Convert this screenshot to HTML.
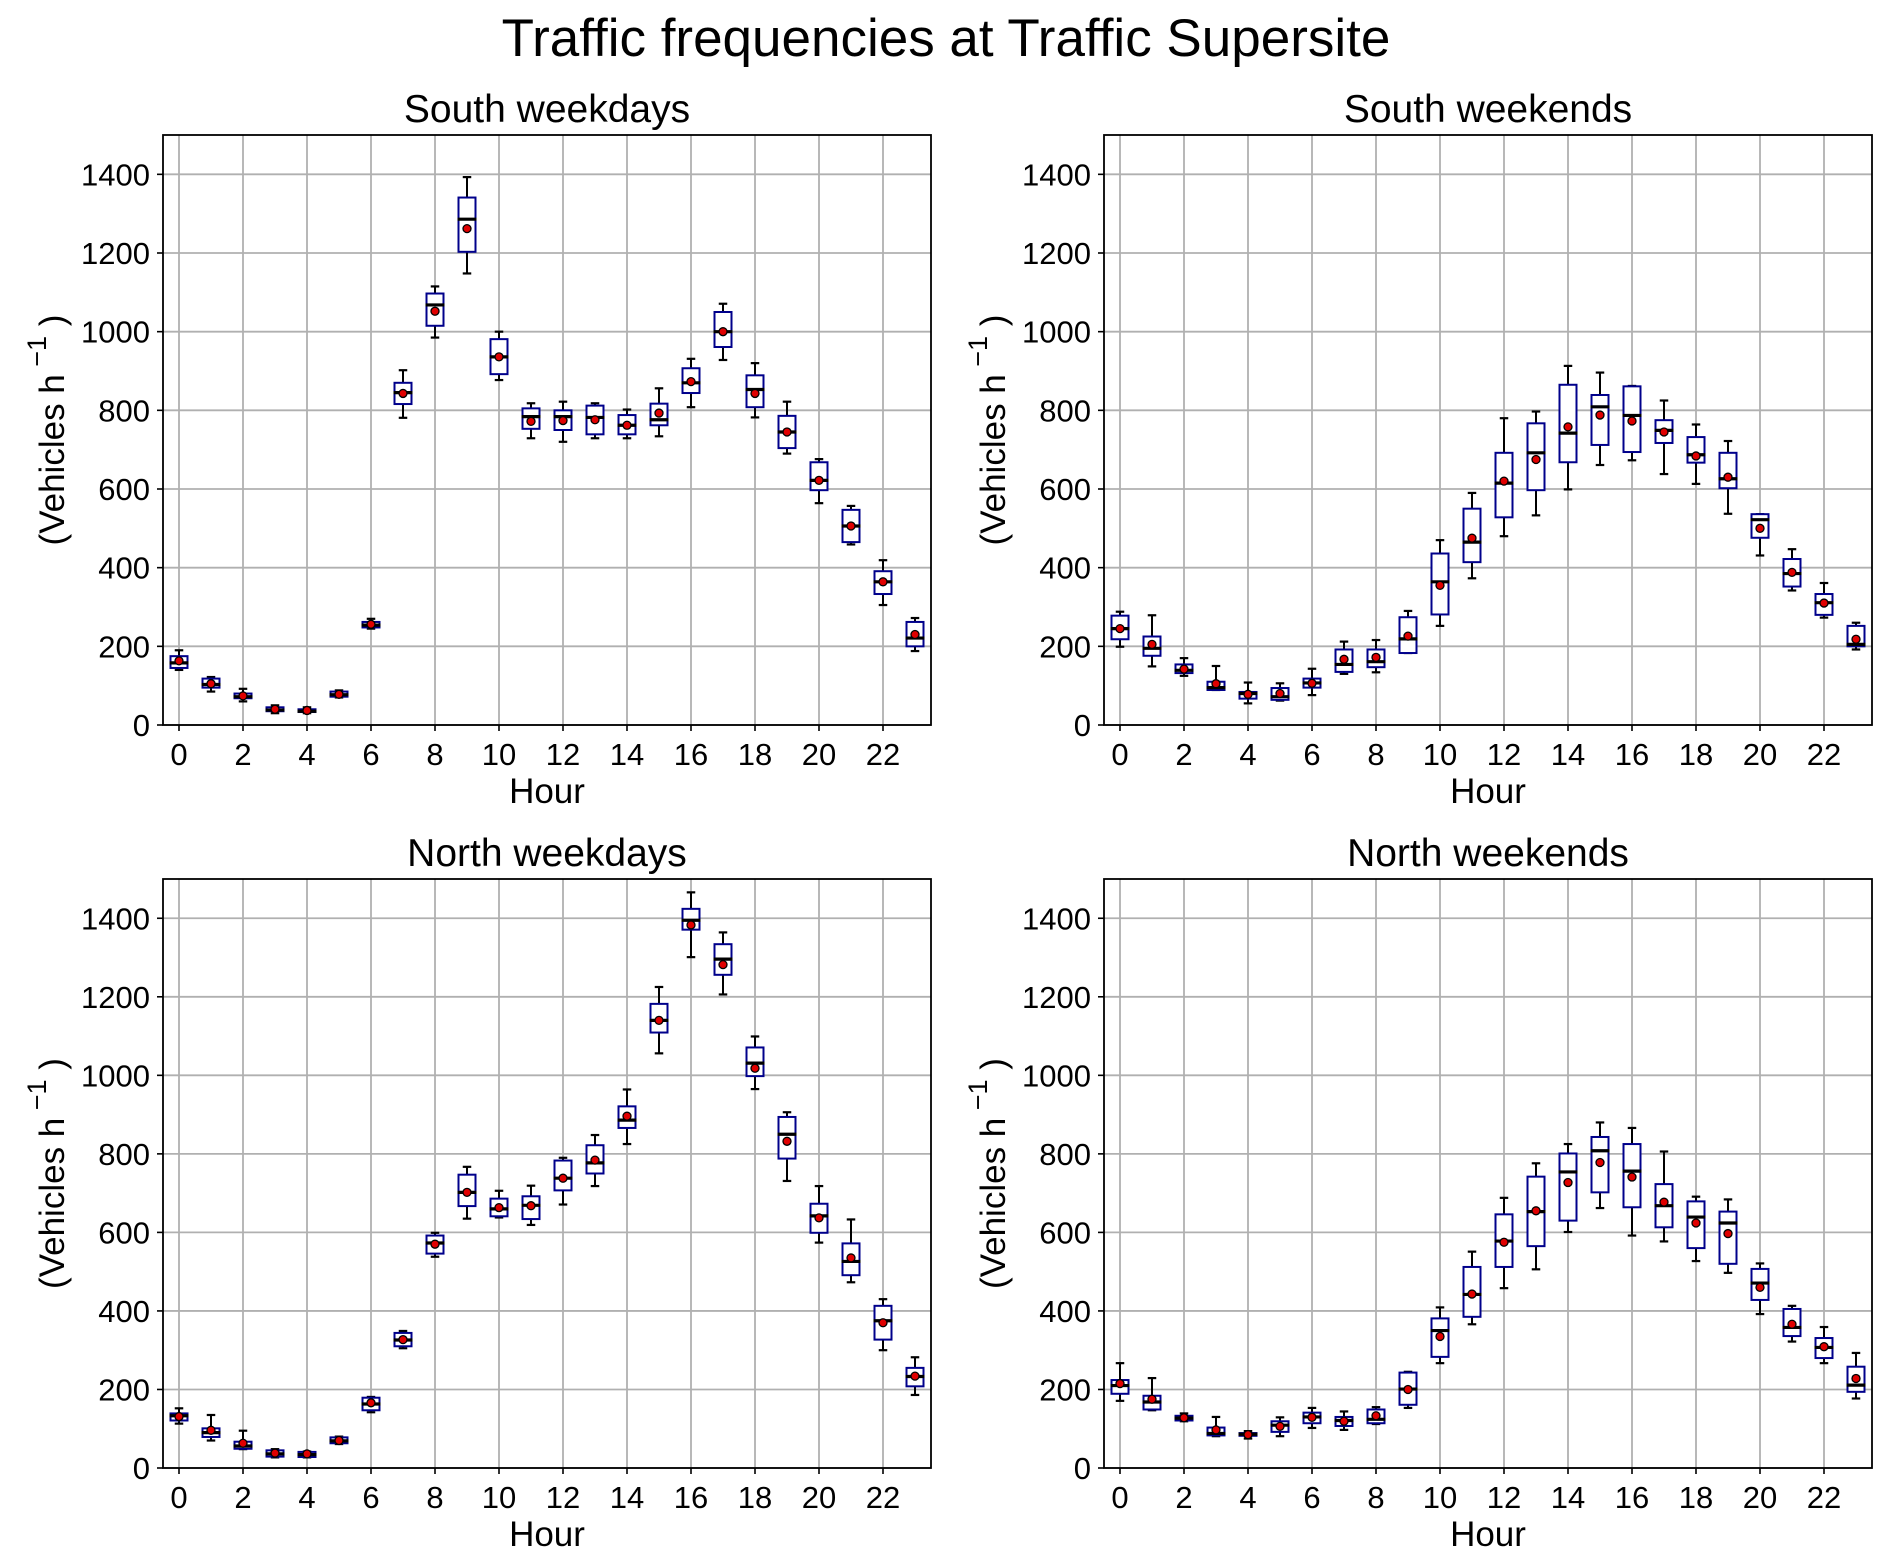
<!DOCTYPE html>
<html><head><meta charset="utf-8"><style>
body{margin:0;background:#fff;}
svg{display:block;font-family:"Liberation Sans",Arial,sans-serif;}
</style></head><body>
<svg id="chart" width="1892" height="1563" viewBox="0 0 1892 1563" xmlns="http://www.w3.org/2000/svg">
<text x="946" y="56" text-anchor="middle" font-size="53" fill="#000">Traffic frequencies at Traffic Supersite</text>
</svg>
<script>
const hours = [0,1,2,3,4,5,6,7,8,9,10,11,12,13,14,15,16,17,18,19,20,21,22,23];
const yTicks = [0,200,400,600,800,1000,1200,1400];
const xTicks = [0,2,4,6,8,10,12,14,16,18,20,22];
const panelTitles = ["South weekdays","South weekends","North weekdays","North weekends"];
// each box: [whiskerLow, q1, median, q3, whiskerHigh]
const southWeekdayBoxes = [[140,145,158,175,190],[85,95,103,118,122],[60,68,72,80,92],[30,35,38,45,50],[30,33,35,40,45],[70,72,77,85,88],[245,248,254,262,270],[781,816,845,870,902],[985,1015,1068,1097,1115],[1148,1203,1286,1341,1393],[877,892,936,981,1000],[729,753,784,805,818],[720,750,784,800,822],[729,739,782,812,818],[729,739,762,788,802],[734,762,776,817,856],[808,844,870,907,931],[928,961,1000,1050,1071],[782,808,853,889,920],[690,704,745,786,822],[564,597,622,668,676],[459,465,506,547,557],[305,333,364,391,419],[188,200,221,262,272]];
const southWeekdayMeans = [163,105,74,40,37,78,256,843,1052,1262,936,772,774,776,762,793,873,1000,843,745,622,506,364,230];
const southWeekendBoxes = [[199,218,245,278,288],[149,176,195,225,279],[125,132,139,154,170],[89,89,95,110,150],[55,67,80,84,108],[62,64,72,94,106],[76,95,107,118,143],[130,135,154,192,212],[134,147,161,192,216],[183,183,219,274,290],[252,281,364,436,470],[373,414,465,550,590],[480,528,615,692,780],[533,597,692,767,797],[599,668,742,865,913],[661,712,809,839,896],[673,694,787,861,862],[638,717,749,775,825],[613,667,687,732,764],[537,602,626,692,722],[431,476,522,536,536],[342,352,385,422,447],[273,280,311,333,361],[192,200,205,252,260]];
const southWeekendMeans = [245,205,142,105,78,80,106,167,172,226,355,475,620,675,758,788,773,745,684,630,500,388,310,218];
const northWeekdayBoxes = [[113,121,133,139,152],[70,79,90,101,135],[48,49,56,67,95],[27,29,36,45,48],[27,28,34,41,42],[61,63,69,78,80],[142,147,163,179,181],[305,310,326,344,349],[538,546,573,592,599],[635,667,702,747,767],[638,641,660,686,706],[619,634,669,692,719],[671,707,738,783,790],[718,750,777,822,848],[825,866,886,921,964],[1056,1109,1140,1182,1225],[1301,1371,1395,1424,1466],[1206,1256,1296,1334,1364],[965,998,1031,1071,1099],[731,788,850,894,906],[574,599,642,673,718],[473,491,526,572,633],[300,327,375,413,430],[186,208,233,255,282]];
const northWeekdayMeans = [131,96,63,38,36,70,166,327,570,702,663,668,738,784,896,1140,1383,1282,1018,832,637,535,370,234];
const northWeekendBoxes = [[171,189,210,224,267],[147,149,168,184,229],[119,121,127,133,139],[81,83,88,103,130],[75,82,86,89,94],[81,92,109,119,129],[102,114,130,141,153],[97,107,121,130,144],[112,114,124,149,155],[153,161,201,243,245],[267,283,350,381,409],[366,385,442,512,551],[458,512,578,646,688],[506,565,653,742,776],[601,630,754,801,825],[662,702,808,843,880],[592,664,756,825,866],[577,613,668,723,806],[527,560,639,679,691],[497,520,624,653,684],[392,428,471,507,521],[322,336,358,405,413],[267,280,307,331,359],[177,194,211,258,293]];
const northWeekendMeans = [215,175,128,97,85,106,129,119,133,200,335,443,575,655,727,778,741,677,624,597,460,366,309,228];

const panels = [
 {L:163,T:135,B:725,boxes:southWeekdayBoxes,means:southWeekdayMeans,key:'south-weekdays'},
 {L:1104,T:135,B:725,boxes:southWeekendBoxes,means:southWeekendMeans,key:'south-weekends'},
 {L:163,T:879,B:1468,boxes:northWeekdayBoxes,means:northWeekdayMeans,key:'north-weekdays'},
 {L:1104,T:879,B:1468,boxes:northWeekendBoxes,means:northWeekendMeans,key:'north-weekends'}
];
const W=768, NS='http://www.w3.org/2000/svg';
const svg=document.getElementById('chart');
function mk(tag,attrs,parent,text){const e=document.createElementNS(NS,tag);for(const k in attrs)e.setAttribute(k,attrs[k]);if(text!==undefined)e.textContent=text;(parent||svg).appendChild(e);return e;}

panels.forEach((p,pi)=>{
  const g=mk('g',{});
  
  
  const H=p.B-p.T;
  const xs=v=>p.L+(v+0.5)/24*W;
  const ys=v=>p.B-v/1500*H;
  xTicks.forEach(t=>{const l=mk('line',{x1:xs(t),x2:xs(t),y1:p.T,y2:p.B,stroke:'#b0b0b0','stroke-width':1.8},g);
    
    });
  yTicks.forEach(t=>{const l=mk('line',{x1:p.L,x2:p.L+W,y1:ys(t),y2:ys(t),stroke:'#b0b0b0','stroke-width':1.8},g);
    
    });
  hours.forEach((h,i)=>{
    const b=p.boxes[i], m=p.means[i], cx=xs(h), bw=17, cw=8.5;
    const bg=mk('g',{},g);
    
    
    mk('line',{x1:cx,x2:cx,y1:ys(b[0]),y2:ys(b[1]),stroke:'#000','stroke-width':2},bg);
    mk('line',{x1:cx,x2:cx,y1:ys(b[3]),y2:ys(b[4]),stroke:'#000','stroke-width':2},bg);
    mk('line',{x1:cx-cw/2,x2:cx+cw/2,y1:ys(b[0]),y2:ys(b[0]),stroke:'#000','stroke-width':2.2},bg);
    mk('line',{x1:cx-cw/2,x2:cx+cw/2,y1:ys(b[4]),y2:ys(b[4]),stroke:'#000','stroke-width':2.2},bg);
    mk('rect',{x:cx-bw/2,y:ys(b[3]),width:bw,height:Math.max(ys(b[1])-ys(b[3]),1),fill:'#fff',stroke:'#00008b','stroke-width':2},bg);
    mk('line',{x1:cx-bw/2-1,x2:cx+bw/2+1,y1:ys(b[2]),y2:ys(b[2]),stroke:'#000','stroke-width':3.2},bg);
    const c=mk('circle',{cx:cx,cy:ys(m),r:4,fill:'#e00000',stroke:'#000','stroke-width':1.3},bg);
    
    
  });
  const fr=mk('rect',{x:p.L,y:p.T,width:W,height:H,fill:'none',stroke:'#000','stroke-width':1.8},g);
  
  
  yTicks.forEach(t=>{mk('line',{x1:p.L-6,x2:p.L,y1:ys(t),y2:ys(t),stroke:'#000','stroke-width':1.6},g);
    const tx=mk('text',{x:p.L-13,y:ys(t)+11,'text-anchor':'end','font-size':31,fill:'#000'},g,String(t));
    
    });
  xTicks.forEach(t=>{mk('line',{x1:xs(t),x2:xs(t),y1:p.B,y2:p.B+6,stroke:'#000','stroke-width':1.6},g);
    const tx=mk('text',{x:xs(t),y:p.B+40,'text-anchor':'middle','font-size':31,fill:'#000'},g,String(t));
    
    });
  const xt=mk('text',{x:p.L+W/2,y:p.B+78,'text-anchor':'middle','font-size':35,fill:'#000'},g,'Hour');
  
  
  const tt=mk('text',{x:p.L+W/2,y:p.T-13,'text-anchor':'middle','font-size':39,fill:'#000'},g,panelTitles[pi]);
  
  
  const cy=(p.T+p.B)/2, lx=p.L-99;
  const yl=mk('text',{x:0,y:0,'text-anchor':'middle','font-size':35,fill:'#000',transform:'translate('+lx+','+cy+') rotate(-90)'},g);
  
  
  mk('tspan',{},yl,'(Vehicles h');
  mk('tspan',{dy:-18,'font-size':27},yl,' \u22121');
  mk('tspan',{dy:18},yl,'  )');
});
</script>
</body></html>
